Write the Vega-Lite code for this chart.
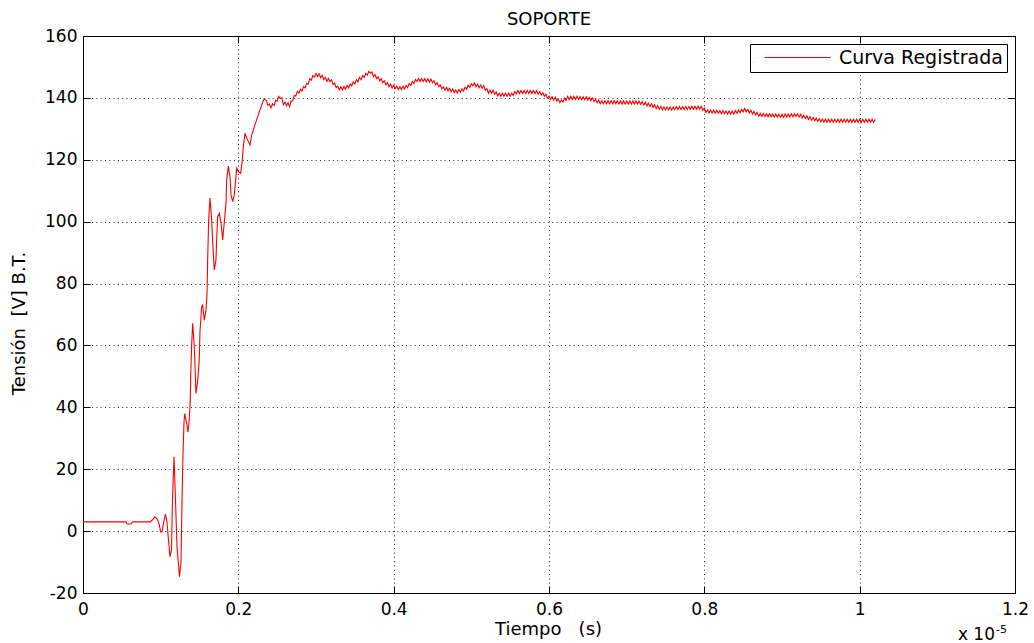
{
  "$schema": "https://vega.github.io/schema/vega-lite/v6.json",
  "width": 932,
  "height": 557,
  "autosize": {"type": "none"},
  "padding": {"left": 83, "top": 36, "right": 19, "bottom": 50},
  "background": "#ffffff",
  "config": {
    "font": "DejaVu Sans",
    "view": {"stroke": "#000000", "strokeWidth": 1},
    "axis": {
      "domain": false,
      "tickColor": "#000000",
      "tickSize": -7,
      "labelColor": "#000000",
      "labelFontSize": 17,
      "labelFlush": false,
      "labelOverlap": false,
      "titleColor": "#000000",
      "titleFontSize": 18,
      "titleFontWeight": "normal",
      "gridColor": "#000000",
      "gridOpacity": 0.85,
      "gridDash": [1, 3.3]
    }
  },
  "title": {"text": "SOPORTE", "fontSize": 18, "fontWeight": "normal", "color": "#000000", "offset": -2},
  "data": {
    "values": [
      {"t":0,"v":3},{"t":0.0554,"v":3},{"t":0.0567,"v":2.3},{"t":0.0618,"v":2.3},{"t":0.0637,"v":3},{"t":0.0863,"v":3},
      {"t":0.0888,"v":3.5},{"t":0.0927,"v":4.6},{"t":0.0953,"v":4.0},{"t":0.0978,"v":2.5},{"t":0.1,"v":-0.3},{"t":0.1017,"v":-0.3},
      {"t":0.1036,"v":2.5},{"t":0.1062,"v":5.5},{"t":0.1081,"v":3},{"t":0.1101,"v":-3},{"t":0.112,"v":-8.3},{"t":0.114,"v":-6},
      {"t":0.1152,"v":10},{"t":0.1172,"v":24},{"t":0.1191,"v":10},{"t":0.121,"v":-5},{"t":0.1242,"v":-14.7},{"t":0.1262,"v":-10},
      {"t":0.1275,"v":10},{"t":0.1288,"v":25},{"t":0.13,"v":35},{"t":0.1309,"v":38},{"t":0.1339,"v":34.3},{"t":0.1352,"v":32},
      {"t":0.1365,"v":35},{"t":0.1381,"v":42},{"t":0.1387,"v":50.4},{"t":0.14,"v":60.7},{"t":0.1412,"v":67.2},{"t":0.1433,"v":59.6},
      {"t":0.1455,"v":44.5},{"t":0.1477,"v":48.8},{"t":0.1497,"v":55.3},{"t":0.1506,"v":64.4},{"t":0.1528,"v":72.5},{"t":0.1541,"v":73},
      {"t":0.1562,"v":68.2},{"t":0.1584,"v":71.5},{"t":0.1597,"v":76.9},{"t":0.1606,"v":88.7},{"t":0.1618,"v":100.5},{"t":0.1635,"v":107.6},
      {"t":0.1657,"v":100.5},{"t":0.167,"v":93.5},{"t":0.169,"v":84.4},{"t":0.1712,"v":87.6},{"t":0.1721,"v":94.1},{"t":0.1734,"v":101.6},
      {"t":0.1755,"v":102.7},{"t":0.1777,"v":99.5},{"t":0.1799,"v":94.1},{"t":0.1806,"v":96.2},{"t":0.1828,"v":102.2},{"t":0.1841,"v":105.9},
      {"t":0.185,"v":113.5},{"t":0.1871,"v":118},{"t":0.1893,"v":114.5},{"t":0.1906,"v":108.6},{"t":0.1927,"v":106.5},{"t":0.1948,"v":108.6},
      {"t":0.197,"v":114.5},{"t":0.1979,"v":117.3},{"t":0.2,"v":116.2},{"t":0.203,"v":115.6},{"t":0.2051,"v":119.9},{"t":0.2064,"v":124.2},
      {"t":0.2086,"v":128.6},{"t":0.2108,"v":127},{"t":0.215,"v":124.8},{"t":0.2172,"v":128},{"t":0.2214,"v":131.3},{"t":0.2257,"v":134.5},
      {"t":0.2301,"v":137.7},{"t":0.233,"v":139.6},
      {"t":0.236,"v":139.2},{"t":0.238,"v":137.6},{"t":0.240,"v":138.0},{"t":0.242,"v":136.8},{"t":0.244,"v":138.1},{"t":0.246,"v":137.5},
      {"t":0.248,"v":139.2},{"t":0.250,"v":138.9},{"t":0.252,"v":140.5},{"t":0.254,"v":139.8},{"t":0.256,"v":140.0},{"t":0.258,"v":137.8},
      {"t":0.260,"v":138.7},{"t":0.262,"v":137.5},{"t":0.264,"v":138.4},{"t":0.266,"v":137.2},{"t":0.268,"v":139.0},{"t":0.270,"v":139.0},
      {"t":0.272,"v":140.8},{"t":0.274,"v":140.6},{"t":0.276,"v":142.1},{"t":0.278,"v":141.5},{"t":0.280,"v":142.8},{"t":0.282,"v":142.2},
      {"t":0.284,"v":143.7},{"t":0.286,"v":143.2},{"t":0.288,"v":144.7},{"t":0.290,"v":144.4},{"t":0.292,"v":146.2},{"t":0.294,"v":145.7},
      {"t":0.296,"v":147.2},{"t":0.298,"v":146.7},{"t":0.300,"v":147.9},{"t":0.302,"v":146.9},{"t":0.304,"v":147.8},{"t":0.306,"v":146.5},
      {"t":0.308,"v":147.3},{"t":0.310,"v":145.9},{"t":0.312,"v":146.6},{"t":0.314,"v":145.3},{"t":0.316,"v":146.3},{"t":0.318,"v":145.3},
      {"t":0.320,"v":145.8},{"t":0.322,"v":144.3},{"t":0.324,"v":144.8},{"t":0.326,"v":143.3},{"t":0.328,"v":143.8},{"t":0.330,"v":142.6},
      {"t":0.332,"v":143.6},{"t":0.334,"v":142.6},{"t":0.336,"v":143.7},{"t":0.338,"v":142.8},{"t":0.340,"v":144.0},{"t":0.342,"v":143.2},
      {"t":0.344,"v":144.5},{"t":0.346,"v":143.9},{"t":0.348,"v":145.2},{"t":0.350,"v":144.5},{"t":0.352,"v":145.9},{"t":0.354,"v":145.2},
      {"t":0.356,"v":146.6},{"t":0.358,"v":145.9},{"t":0.360,"v":147.2},{"t":0.362,"v":146.6},{"t":0.364,"v":147.9},{"t":0.366,"v":147.3},
      {"t":0.368,"v":148.6},{"t":0.370,"v":148.0},{"t":0.372,"v":148.4},{"t":0.374,"v":146.9},{"t":0.376,"v":147.5},{"t":0.378,"v":146.2},
      {"t":0.380,"v":146.8},{"t":0.382,"v":145.5},{"t":0.384,"v":146.2},{"t":0.386,"v":144.9},{"t":0.388,"v":145.5},{"t":0.390,"v":144.2},
      {"t":0.392,"v":144.9},{"t":0.394,"v":143.6},{"t":0.396,"v":144.4},{"t":0.398,"v":143.2},{"t":0.400,"v":144.1},{"t":0.402,"v":143.0},
      {"t":0.404,"v":143.8},{"t":0.406,"v":142.7},{"t":0.408,"v":143.6},{"t":0.410,"v":142.7},{"t":0.412,"v":143.8},{"t":0.414,"v":142.9},
      {"t":0.416,"v":144.0},{"t":0.418,"v":143.3},{"t":0.420,"v":144.6},{"t":0.422,"v":144.0},{"t":0.424,"v":145.3},{"t":0.426,"v":144.7},
      {"t":0.428,"v":146.0},{"t":0.430,"v":145.3},{"t":0.432,"v":146.3},{"t":0.434,"v":145.3},{"t":0.436,"v":146.3},{"t":0.438,"v":145.3},
      {"t":0.440,"v":146.2},{"t":0.442,"v":145.2},{"t":0.444,"v":146.2},{"t":0.446,"v":145.1},{"t":0.448,"v":146.1},{"t":0.450,"v":144.9},
      {"t":0.452,"v":145.6},{"t":0.454,"v":144.3},{"t":0.456,"v":144.9},{"t":0.458,"v":143.6},{"t":0.460,"v":144.2},{"t":0.462,"v":142.9},
      {"t":0.464,"v":143.6},{"t":0.466,"v":142.5},{"t":0.468,"v":143.4},{"t":0.470,"v":142.2},{"t":0.472,"v":143.1},{"t":0.474,"v":142.0},
      {"t":0.476,"v":142.9},{"t":0.478,"v":141.7},{"t":0.480,"v":142.6},{"t":0.482,"v":141.6},{"t":0.484,"v":142.7},{"t":0.486,"v":141.8},
      {"t":0.488,"v":143.0},{"t":0.490,"v":142.2},{"t":0.492,"v":143.5},{"t":0.494,"v":142.8},{"t":0.496,"v":144.1},{"t":0.498,"v":143.4},
      {"t":0.500,"v":144.6},{"t":0.502,"v":143.9},{"t":0.504,"v":144.8},{"t":0.506,"v":143.6},{"t":0.508,"v":144.4},{"t":0.510,"v":143.3},
      {"t":0.512,"v":144.2},{"t":0.514,"v":143.1},{"t":0.516,"v":144.0},{"t":0.518,"v":142.5},{"t":0.520,"v":143.0},{"t":0.522,"v":141.5},
      {"t":0.524,"v":142.5},{"t":0.526,"v":141.5},{"t":0.528,"v":142.5},{"t":0.530,"v":141.2},{"t":0.532,"v":141.9},{"t":0.534,"v":140.6},
      {"t":0.536,"v":141.5},{"t":0.538,"v":140.5},{"t":0.540,"v":141.5},{"t":0.542,"v":140.5},{"t":0.544,"v":141.5},{"t":0.546,"v":140.5},
      {"t":0.548,"v":141.5},{"t":0.550,"v":140.5},{"t":0.552,"v":141.5},{"t":0.554,"v":140.8},{"t":0.556,"v":142.0},{"t":0.558,"v":141.3},
      {"t":0.560,"v":142.4},{"t":0.562,"v":141.4},{"t":0.564,"v":142.4},{"t":0.566,"v":141.4},{"t":0.568,"v":142.4},{"t":0.570,"v":141.4},
      {"t":0.572,"v":142.4},{"t":0.574,"v":141.4},{"t":0.576,"v":142.4},{"t":0.578,"v":141.4},{"t":0.580,"v":142.4},{"t":0.582,"v":141.4},
      {"t":0.584,"v":142.4},{"t":0.586,"v":141.2},{"t":0.588,"v":142.1},{"t":0.590,"v":140.9},{"t":0.592,"v":141.7},{"t":0.594,"v":140.5},
      {"t":0.596,"v":141.2},{"t":0.598,"v":139.9},{"t":0.600,"v":140.6},{"t":0.602,"v":139.5},{"t":0.604,"v":140.4},{"t":0.606,"v":139.3},
      {"t":0.608,"v":140.2},{"t":0.610,"v":138.9},{"t":0.612,"v":139.7},{"t":0.614,"v":138.5},{"t":0.616,"v":139.3},{"t":0.618,"v":138.6},
      {"t":0.620,"v":139.9},{"t":0.622,"v":139.2},{"t":0.624,"v":140.5},{"t":0.626,"v":139.5},{"t":0.628,"v":140.5},{"t":0.630,"v":139.5},
      {"t":0.632,"v":140.5},{"t":0.634,"v":139.5},{"t":0.636,"v":140.5},{"t":0.638,"v":139.5},{"t":0.640,"v":140.4},{"t":0.642,"v":139.4},
      {"t":0.644,"v":140.4},{"t":0.646,"v":139.4},{"t":0.648,"v":140.4},{"t":0.650,"v":139.3},{"t":0.652,"v":140.2},{"t":0.654,"v":139.1},
      {"t":0.656,"v":140.0},{"t":0.658,"v":138.8},{"t":0.660,"v":139.6},{"t":0.662,"v":138.4},{"t":0.664,"v":139.3},{"t":0.666,"v":138.1},
      {"t":0.668,"v":139.1},{"t":0.670,"v":138.1},{"t":0.672,"v":139.1},{"t":0.674,"v":138.1},{"t":0.676,"v":139.1},{"t":0.678,"v":138.1},
      {"t":0.680,"v":139.1},{"t":0.682,"v":138.1},{"t":0.684,"v":139.1},{"t":0.686,"v":138.1},{"t":0.688,"v":139.1},{"t":0.690,"v":138.0},
      {"t":0.692,"v":139.0},{"t":0.694,"v":138.0},{"t":0.696,"v":139.0},{"t":0.698,"v":138.0},{"t":0.700,"v":139.0},{"t":0.702,"v":138.0},
      {"t":0.704,"v":139.0},{"t":0.706,"v":138.0},{"t":0.708,"v":139.0},{"t":0.710,"v":138.0},{"t":0.712,"v":139.0},{"t":0.714,"v":138.0},
      {"t":0.716,"v":139.0},{"t":0.718,"v":137.9},{"t":0.720,"v":138.8},{"t":0.722,"v":137.7},{"t":0.724,"v":138.6},{"t":0.726,"v":137.4},
      {"t":0.728,"v":138.3},{"t":0.730,"v":137.2},{"t":0.732,"v":138.1},{"t":0.734,"v":136.9},{"t":0.736,"v":137.8},{"t":0.738,"v":136.6},
      {"t":0.740,"v":137.5},{"t":0.742,"v":136.3},{"t":0.744,"v":137.2},{"t":0.746,"v":136.1},{"t":0.748,"v":137.1},{"t":0.750,"v":136.1},
      {"t":0.752,"v":137.1},{"t":0.754,"v":136.1},{"t":0.756,"v":137.1},{"t":0.758,"v":136.1},{"t":0.760,"v":137.1},{"t":0.762,"v":136.2},
      {"t":0.764,"v":137.2},{"t":0.766,"v":136.2},{"t":0.768,"v":137.2},{"t":0.770,"v":136.2},{"t":0.772,"v":137.2},{"t":0.774,"v":136.2},
      {"t":0.776,"v":137.2},{"t":0.778,"v":136.2},{"t":0.780,"v":137.2},{"t":0.782,"v":136.3},{"t":0.784,"v":137.3},{"t":0.786,"v":136.3},
      {"t":0.788,"v":137.3},{"t":0.790,"v":136.3},{"t":0.792,"v":137.3},{"t":0.794,"v":136.3},{"t":0.796,"v":137.3},{"t":0.798,"v":136.0},
      {"t":0.800,"v":136.7},{"t":0.802,"v":135.3},{"t":0.804,"v":136.1},{"t":0.806,"v":135.1},{"t":0.808,"v":136.1},{"t":0.810,"v":135.1},
      {"t":0.812,"v":136.0},{"t":0.814,"v":135.0},{"t":0.816,"v":136.0},{"t":0.818,"v":135.0},{"t":0.820,"v":135.9},{"t":0.822,"v":134.9},
      {"t":0.824,"v":135.9},{"t":0.826,"v":134.9},{"t":0.828,"v":135.8},{"t":0.830,"v":134.8},{"t":0.832,"v":135.8},{"t":0.834,"v":134.8},
      {"t":0.836,"v":135.7},{"t":0.838,"v":134.7},{"t":0.840,"v":135.9},{"t":0.842,"v":135.0},{"t":0.844,"v":136.1},{"t":0.846,"v":135.2},
      {"t":0.848,"v":136.3},{"t":0.850,"v":135.5},{"t":0.852,"v":136.6},{"t":0.854,"v":135.5},{"t":0.856,"v":136.3},{"t":0.858,"v":135.1},
      {"t":0.860,"v":136.0},{"t":0.862,"v":134.8},{"t":0.864,"v":135.6},{"t":0.866,"v":134.5},{"t":0.868,"v":135.3},{"t":0.870,"v":134.1},
      {"t":0.872,"v":135.0},{"t":0.874,"v":134.0},{"t":0.876,"v":135.0},{"t":0.878,"v":134.0},{"t":0.880,"v":134.9},{"t":0.882,"v":133.9},
      {"t":0.884,"v":134.9},{"t":0.886,"v":133.9},{"t":0.888,"v":134.8},{"t":0.890,"v":133.8},{"t":0.892,"v":134.8},{"t":0.894,"v":133.8},
      {"t":0.896,"v":134.7},{"t":0.898,"v":133.7},{"t":0.900,"v":134.7},{"t":0.902,"v":133.7},{"t":0.904,"v":134.8},{"t":0.906,"v":133.8},
      {"t":0.908,"v":134.8},{"t":0.910,"v":133.8},{"t":0.912,"v":134.9},{"t":0.914,"v":133.9},{"t":0.916,"v":134.9},{"t":0.918,"v":134.0},
      {"t":0.920,"v":134.9},{"t":0.922,"v":133.8},{"t":0.924,"v":134.7},{"t":0.926,"v":133.5},{"t":0.928,"v":134.4},{"t":0.930,"v":133.3},
      {"t":0.932,"v":134.2},{"t":0.934,"v":133.0},{"t":0.936,"v":133.9},{"t":0.938,"v":132.8},{"t":0.940,"v":133.7},{"t":0.942,"v":132.6},
      {"t":0.944,"v":133.5},{"t":0.946,"v":132.4},{"t":0.948,"v":133.3},{"t":0.950,"v":132.2},{"t":0.952,"v":133.2},{"t":0.954,"v":132.1},
      {"t":0.956,"v":133.1},{"t":0.958,"v":132.1},{"t":0.960,"v":133.1},{"t":0.962,"v":132.1},{"t":0.964,"v":133.1},{"t":0.966,"v":132.1},
      {"t":0.968,"v":133.1},{"t":0.970,"v":132.1},{"t":0.972,"v":133.1},{"t":0.974,"v":132.1},{"t":0.976,"v":133.1},{"t":0.978,"v":132.1},
      {"t":0.980,"v":133.1},{"t":0.982,"v":132.1},{"t":0.984,"v":133.1},{"t":0.986,"v":132.1},{"t":0.988,"v":133.1},{"t":0.990,"v":132.1},
      {"t":0.992,"v":133.1},{"t":0.994,"v":132.1},{"t":0.996,"v":133.1},{"t":0.998,"v":132.1},{"t":1.000,"v":133.1},{"t":1.002,"v":132.1},
      {"t":1.004,"v":133.1},{"t":1.006,"v":132.1},{"t":1.008,"v":133.1},{"t":1.010,"v":132.1},{"t":1.012,"v":133.1},{"t":1.014,"v":132.1},
      {"t":1.016,"v":133.1},{"t":1.018,"v":132.1},{"t":1.020,"v":133.1}
    ]
  },
  "layer": [
    {
      "mark": {"type": "line", "strokeWidth": 1.1, "interpolate": "linear"},
      "encoding": {
        "x": {
          "field": "t", "type": "quantitative",
          "scale": {"domain": [0, 1.2], "nice": false, "zero": false},
          "axis": {
            "orient": "bottom", "values": [0, 0.2, 0.4, 0.6, 0.8, 1, 1.2], "format": ".1~f",
            "labelPadding": 15, "title": "Tiempo\u00a0\u00a0\u00a0(s)",
            "titleX": 465, "titleY": 41, "titleBaseline": "alphabetic", "titleAnchor": "middle", "titleAlign": "center"
          }
        },
        "y": {
          "field": "v", "type": "quantitative",
          "scale": {"domain": [-20, 160], "nice": false, "zero": false},
          "axis": {
            "orient": "left", "values": [-20, 0, 20, 40, 60, 80, 100, 120, 140, 160],
            "labelExpr": "'' + datum.value", "labelPadding": 13,
            "title": "Tensión\u00a0\u00a0[V] B.T.",
            "titleX": -64, "titleY": 287, "titleAngle": -90, "titleBaseline": "middle", "titleAlign": "center", "titleAnchor": "middle"
          }
        },
        "color": {
          "datum": "Curva Registrada",
          "scale": {"range": ["#ff0000"]},
          "legend": {
            "title": null, "orient": "top-right", "offset": 8,
            "strokeColor": "#000000", "fillColor": "#ffffff", "padding": 4,
            "symbolType": "M-6,0H6", "symbolSize": 121, "symbolStrokeWidth": 1,
            "symbolOffset": 34, "labelOffset": 32, "labelLimit": 400,
            "labelFontSize": 19, "labelColor": "#000000", "labelFont": "DejaVu Sans"
          }
        }
      }
    },
    {
      "mark": {"type": "line", "opacity": 0},
      "encoding": {
        "x": {
          "field": "t", "type": "quantitative",
          "axis": {"orient": "top", "values": [0, 0.2, 0.4, 0.6, 0.8, 1, 1.2], "labels": false, "grid": false, "title": null}
        },
        "y": {
          "field": "v", "type": "quantitative",
          "axis": {"orient": "right", "values": [-20, 0, 20, 40, 60, 80, 100, 120, 140, 160], "labels": false, "grid": false, "title": null}
        }
      }
    },
    {
      "data": {"values": [{"txt": "x 10"}]},
      "mark": {"type": "text", "align": "right", "baseline": "alphabetic", "fontSize": 17, "color": "#000000", "dx": -20, "dy": 47},
      "encoding": {
        "x": {"datum": 1.2, "type": "quantitative", "axis": null},
        "y": {"datum": -20, "type": "quantitative", "axis": null},
        "text": {"field": "txt"}
      }
    },
    {
      "data": {"values": [{"txt": "-5"}]},
      "mark": {"type": "text", "align": "left", "baseline": "alphabetic", "fontSize": 11, "color": "#000000", "dx": -19, "dy": 40},
      "encoding": {
        "x": {"datum": 1.2, "type": "quantitative", "axis": null},
        "y": {"datum": -20, "type": "quantitative", "axis": null},
        "text": {"field": "txt"}
      }
    }
  ],
  "resolve": {"axis": {"x": "independent", "y": "independent"}}
}
